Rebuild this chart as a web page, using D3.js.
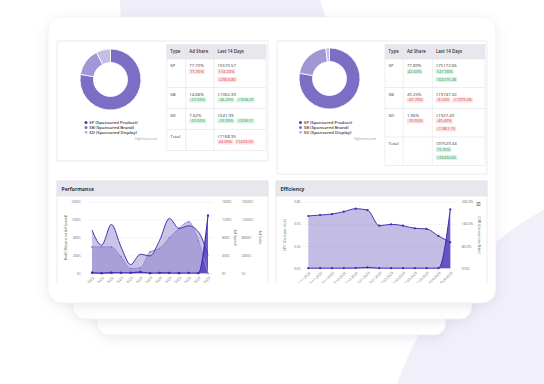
<!DOCTYPE html>
<html>
<head>
<meta charset="utf-8">
<script src="https://cdn.jsdelivr.net/npm/d3@7"></script>
<style>
  body { margin: 0; background: #fff; }
  svg { display: block; }
  text { font-family: "Open Sans", "DejaVu Sans", sans-serif; }
</style>
</head>
<body>
<div id="chart"></div>
<script>
// ---- data ----
var adTypes = ["SP (Sponsored Product)", "SB (Sponsored Brand)", "SD (Sponsored Display)"];
var leftShares = [77.70, 14.68, 7.62];
var rightShares = [77.80, 20.25, 1.96];

var tableHead = ["Type", "Ad Share", "Last 14 Days"];
var rowTypes = ["SP", "SB", "SD", "Total"];

var leftShare = ["77.70%", "14.68%", "7.62%", ""];
var leftShareChg = ["71.70%", "-57.00%", "-63.00%", ""];
var leftLast = ["€5570.57", "€1062.39", "€541.99", "€7168.95"];
var leftLastChg = [[["114.20%"], ["€2969.80"]], [["-46.20%", "-€908.29"]], [["-53.90%", "-€638.01"]], [["24.00%", "€1423.50"]]];
var leftTone = ["r", "g", "g", "r"];

var rightShare = ["77.80%", "20.25%", "1.96%", ""];
var rightShareChg = ["42.60%", "-47.70%", "-70.50%", ""];
var rightLast = ["€75172.66", "€19747.32", "€1927.40", "€97529.34"];
var rightLastChg = [[["547.90%"], ["€63275.48"]], [["-9.50%", "-€1975.68"]], [["-49.40%"], ["-€1861.15"]], [["73.90%"], ["€43434.66"]]];
var rightTone = ["g", "r", "r", "g"];

var perfDates = ["10.2022", "11.2022", "12.2022", "01.2023", "02.2023", "03.2023", "04.2023",
                 "05.2023", "06.2023", "07.2023", "08.2023", "09.2023", "10.2023"];
var perfSales = [9650, 6280, 10920, 5910, 1940, 4260, 3890, 7400, 12260, 10020, 10620, 9270, 4040];
var perfSpend = [590, 590, 590, 366, 105, 120, 478, 558, 793, 1002, 1151, 729, 0];
var perfRoas = [15, 3, 15, 12, 12, 30, 3, 10, 8, 5, 8, 5, 1290];
var perfTicks = [0, 400, 800, 1200, 1600];
var salesTicks = [0, 4000, 8000, 12000, 16000];

var effDates = ["01-11-2022", "15-11-2022", "29-11-2022", "13-12-2022", "27-12-2022", "10-01-2023", "24-01-2023",
                "07-02-2023", "21-02-2023", "07-03-2023", "21-03-2023", "04-04-2023", "18-04-2023"];
var effCpc = [0.589, 0.600, 0.611, 0.638, 0.671, 0.656, 0.480, 0.495, 0.480, 0.450, 0.443, 0.364, 0.293];
var effCvr = [0.5, 0.5, 0.5, 0.5, 1, 3, 0.5, 0.5, 0.5, 0.5, 0.5, 0.5, 212];
var cpcTicks = [0, 0.25, 0.5, 0.75];
var cvrTicks = [0, 80, 160, 240];

// ---- page ----
var W = 544, H = 384;
var border = "#e3e3ea";
var dark = "#4536b6";
var sliceColors = ["#7d6ec5", "#a396d5", "#c6bee5"];
var dotColors = ["#4e3fa9", "#8070c6", "#bdb3e0"];

var svg = d3.select("#chart").append("svg").attr("width", W).attr("height", H);
var defs = svg.append("defs");
var f = defs.append("filter").attr("id", "soft")
  .attr("x", "-20%").attr("y", "-20%").attr("width", "140%").attr("height", "150%");
f.append("feDropShadow").attr("dx", 0).attr("dy", 3).attr("stdDeviation", 6)
  .attr("flood-color", "#7f7a9e").attr("flood-opacity", 0.16);
defs.append("clipPath").attr("id", "inner").append("rect")
  .attr("x", 48).attr("y", 17).attr("width", 448).attr("height", 266);

// background shapes
svg.append("path").attr("d", "M120,0 L320,0 L330,30 L121,30 Z").attr("fill", "#efedf8");
svg.append("circle").attr("cx", 700).attr("cy", 490).attr("r", 321).attr("fill", "#f1eff9");

// device frame and the two cards behind it
svg.append("rect").attr("x", 97).attr("y", 280).attr("width", 349).attr("height", 55).attr("rx", 12)
  .attr("fill", "#fff").attr("stroke", "#ececf2").attr("stroke-width", 0.6).attr("filter", "url(#soft)");
svg.append("rect").attr("x", 73).attr("y", 280).attr("width", 399).attr("height", 39).attr("rx", 12)
  .attr("fill", "#fff").attr("stroke", "#ececf2").attr("stroke-width", 0.6).attr("filter", "url(#soft)");
svg.append("rect").attr("x", 48).attr("y", 17).attr("width", 448).attr("height", 286).attr("rx", 14)
  .attr("fill", "#fff").attr("stroke", "#ececf3").attr("stroke-width", 0.6).attr("filter", "url(#soft)");

var content = svg.append("g").attr("clip-path", "url(#inner)");

// ---- top panels: donut + table ----
function drawShare(x0, y0, w, h, shares, cx, cy, legX, credX, tbl) {
  var g = content.append("g");
  g.append("rect").attr("x", x0).attr("y", y0).attr("width", w).attr("height", h)
    .attr("fill", "#fff").attr("stroke", border).attr("stroke-width", 0.7);

  var pie = d3.pie().sort(null).value(function(d) { return d; });
  var arc = d3.arc().innerRadius(17).outerRadius(30.5);
  g.append("g").attr("transform", "translate(" + cx + "," + cy + ")")
    .selectAll("path").data(pie(shares)).enter().append("path")
    .attr("d", arc)
    .attr("fill", function(d, i) { return sliceColors[i]; })
    .attr("stroke", "#fff").attr("stroke-width", 0.8);

  var leg = g.selectAll(".leg").data(adTypes).enter().append("g")
    .attr("transform", function(d, i) { return "translate(" + legX + "," + (122.5 + i * 4.9) + ")"; });
  leg.append("circle").attr("r", 1.5).attr("fill", function(d, i) { return dotColors[i]; });
  leg.append("text").attr("x", 3.3).attr("dy", "0.35em").attr("font-size", 4.3).attr("fill", "#333")
    .attr("font-weight", 600).text(function(d) { return d; });
  g.append("text").attr("x", credX).attr("y", 139.5).attr("text-anchor", "end")
    .attr("font-size", 3).attr("fill", "#999").text("Highcharts.com");

  // table
  var cols = tbl.cols;
  var top = 44, headH = 15;
  g.append("rect").attr("x", cols[0]).attr("y", top).attr("width", cols[3] - cols[0]).attr("height", headH)
    .attr("fill", "#e8e7ee");
  tableHead.forEach(function(t, i) {
    g.append("text").attr("x", cols[i] + 3.6).attr("y", top + 9).attr("font-size", 4.4)
      .attr("font-weight", 600).attr("fill", "#333").text(t);
  });
  var y = top + headH;
  var rowTops = [];
  rowTypes.forEach(function(t, r) {
    var n = tbl.last[r].length;
    var rh = 13.5 + 7.5 * n;
    rowTops.push(y);
    var tone = tbl.tone[r];
    var bg = tone === "r" ? "#fde2e2" : "#dcf4e6";
    var fg = tone === "r" ? "#e0403a" : "#1f9a57";
    g.append("text").attr("x", cols[0] + 3.6).attr("y", y + 8).attr("font-size", 4.3).attr("fill", "#333").text(t);
    g.append("text").attr("x", cols[1] + 3.6).attr("y", y + 8).attr("font-size", 4.3).attr("fill", "#333").text(tbl.share[r]);
    g.append("text").attr("x", cols[2] + 3.6).attr("y", y + 8).attr("font-size", 4.3).attr("fill", "#333").text(tbl.lastVal[r]);
    function badge(bx, by, txt) {
      var bgr = g.append("rect").attr("y", by - 2.5).attr("height", 5).attr("fill", bg);
      var tx = g.append("text").attr("x", bx + 1.2).attr("y", by).attr("dy", "0.35em")
        .attr("font-size", 4).attr("fill", fg).text(txt);
      var tw = tx.node().getComputedTextLength();
      bgr.attr("x", bx).attr("width", tw + 2.4);
      return bx + tw + 2.4;
    }
    if (tbl.shareChg[r]) badge(cols[1] + 3.3, y + 12.5, tbl.shareChg[r]);
    tbl.last[r].forEach(function(line, li) {
      var bx = cols[2] + 3.3;
      line.forEach(function(txt) { bx = badge(bx, y + 12.5 + li * 8, txt) + 1.6; });
    });
    y += rh;
  });
  rowTops.push(y);
  rowTops.forEach(function(ry) {
    g.append("line").attr("x1", cols[0]).attr("x2", cols[3]).attr("y1", ry).attr("y2", ry)
      .attr("stroke", border).attr("stroke-width", 0.6);
  });
  cols.forEach(function(cx2) {
    g.append("line").attr("x1", cx2).attr("x2", cx2).attr("y1", top).attr("y2", y)
      .attr("stroke", border).attr("stroke-width", 0.6);
  });
}

drawShare(57, 41, 211, 120, leftShares, 110.5, 79.5, 86, 157, {
  cols: [166.7, 185.7, 214, 266], share: leftShare, shareChg: leftShareChg,
  lastVal: leftLast, last: leftLastChg, tone: leftTone
});
drawShare(277, 41, 210, 133, rightShares, 329.5, 78.5, 300.5, 376, {
  cols: [385, 403.3, 432.3, 485], share: rightShare, shareChg: rightShareChg,
  lastVal: rightLast, last: rightLastChg, tone: rightTone
});

// ---- bottom panels ----
function chartPanel(x0, w, title) {
  var g = content.append("g");
  g.append("rect").attr("x", x0).attr("y", 181).attr("width", w).attr("height", 130)
    .attr("fill", "#fff").attr("stroke", border).attr("stroke-width", 0.7);
  g.append("rect").attr("x", x0).attr("y", 181).attr("width", w).attr("height", 15)
    .attr("fill", "#e8e7ee").attr("stroke", border).attr("stroke-width", 0.7);
  g.append("text").attr("x", x0 + 4.5).attr("y", 190.5).attr("font-size", 5)
    .attr("font-weight", 700).attr("fill", "#333").text(title);
  return g;
}
function styleAxis(sel) {
  sel.select(".domain").remove();
  sel.selectAll("text").attr("font-size", 3.4).attr("fill", "#666")
    .style("font-family", "\"Open Sans\", sans-serif");
}
function axisTitle(g, x, y, rot, txt) {
  g.append("text").attr("transform", "translate(" + x + "," + y + ") rotate(" + rot + ")")
    .attr("text-anchor", "middle").attr("dy", "0.35em").attr("font-size", 3.6).attr("fill", "#666").text(txt);
}
function xLabels(g, scale, y0) {
  g.append("g").attr("transform", "translate(0," + y0 + ")")
    .call(d3.axisBottom(scale).tickSize(0))
    .call(styleAxis)
    .selectAll("text").attr("x", 0).attr("y", 0).attr("dy", "0.35em")
    .attr("text-anchor", "end").attr("transform", "translate(1,4) rotate(-45)");
}

// Performance
var perf = chartPanel(57, 211, "Performance");
var pX = d3.scalePoint().domain(perfDates).range([92, 208]);
var pY = d3.scaleLinear().domain([0, 1600]).range([273.3, 201.7]);
var pSalesY = d3.scaleLinear().domain([0, 16000]).range([273.3, 201.7]);

perf.append("g").attr("transform", "translate(88,0)")
  .call(d3.axisLeft(pY).tickValues(perfTicks).tickSize(-125).tickFormat(""))
  .call(styleAxis).selectAll("line").attr("stroke", "#ececf1").attr("stroke-width", 0.6);
perf.append("g").attr("transform", "translate(88,0)")
  .call(d3.axisLeft(pY).tickValues(perfTicks).tickSize(0).tickPadding(7).tickFormat(function(d) { return d + "€"; }))
  .call(styleAxis);
perf.append("g").attr("transform", "translate(213,0)")
  .call(d3.axisRight(pY).tickValues(perfTicks).tickSize(0).tickPadding(9).tickFormat(function(d) { return d + "€"; }))
  .call(styleAxis);
perf.append("g").attr("transform", "translate(213,0)")
  .call(d3.axisRight(pSalesY).tickValues(salesTicks).tickSize(0).tickPadding(28.7).tickFormat(function(d) { return d + "€"; }))
  .call(styleAxis);
axisTitle(perf, 66, 237.5, -90, "RoAS (Return on Ad Spend)");
axisTitle(perf, 235, 237.5, 90, "Ad Spend");
axisTitle(perf, 260, 237.5, 90, "Ad Sales");

function px(d, i) { return pX(perfDates[i]); }
perf.append("path").datum(perfSales)
  .attr("d", d3.area().x(px).y0(pY(0)).y1(function(d) { return pSalesY(d); }).curve(d3.curveMonotoneX))
  .attr("fill", "#7a6bc3").attr("fill-opacity", 0.4);
perf.append("path").datum(perfSpend)
  .attr("d", d3.area().x(px).y0(pY(0)).y1(function(d) { return pY(d); }).curve(d3.curveMonotoneX))
  .attr("fill", "#7a6bc3").attr("fill-opacity", 0.4);
perf.append("path").datum(perfRoas)
  .attr("d", d3.area().x(px).y0(pY(0)).y1(function(d) { return pY(d); }).curve(d3.curveMonotoneX))
  .attr("fill", "#4a3bb8").attr("fill-opacity", 0.8);
perf.append("path").datum(perfSpend)
  .attr("d", d3.line().x(px).y(function(d) { return pY(d); }).curve(d3.curveMonotoneX))
  .attr("fill", "none").attr("stroke", "#9287d4").attr("stroke-width", 0.9);
perf.selectAll(".sm").data(perfSpend).enter().append("circle")
  .attr("cx", px).attr("cy", function(d) { return pY(d); }).attr("r", 0.9).attr("fill", "#8a7ed0");
perf.append("path").datum(perfSales)
  .attr("d", d3.line().x(px).y(function(d) { return pSalesY(d); }).curve(d3.curveMonotoneX))
  .attr("fill", "none").attr("stroke", dark).attr("stroke-width", 1);
perf.append("path").datum(perfRoas)
  .attr("d", d3.line().x(px).y(function(d) { return pY(d); }).curve(d3.curveMonotoneX))
  .attr("fill", "none").attr("stroke", "#3b2cb2").attr("stroke-width", 1.1);
perf.selectAll(".rm").data(perfRoas).enter().append("rect")
  .attr("x", function(d, i) { return px(d, i) - 1.1; }).attr("y", function(d) { return pY(d) - 1.1; })
  .attr("width", 2.2).attr("height", 2.2).attr("fill", "#3b2cb2");
xLabels(perf, pX, 273.3);

// Efficiency
var eff = chartPanel(276, 211, "Efficiency");
var eX = d3.scalePoint().domain(effDates).range([308.3, 450.3]);
var eY = d3.scaleLinear().domain([0, 0.75]).range([268.3, 201.7]);
var eCvrY = d3.scaleLinear().domain([0, 240]).range([268.3, 201.7]);

eff.append("g").attr("transform", "translate(303,0)")
  .call(d3.axisLeft(eY).tickValues(cpcTicks).tickSize(-152).tickFormat(""))
  .call(styleAxis).selectAll("line").attr("stroke", "#ececf1").attr("stroke-width", 0.6);
eff.append("g").attr("transform", "translate(303,0)")
  .call(d3.axisLeft(eY).tickValues(cpcTicks).tickSize(0).tickPadding(2).tickFormat(function(d) { return d.toFixed(1) + "€"; }))
  .call(styleAxis);
eff.append("g").attr("transform", "translate(455,0)")
  .call(d3.axisRight(eCvrY).tickValues(cvrTicks).tickSize(0).tickPadding(6.7).tickFormat(function(d) { return d.toFixed(1) + "%"; }))
  .call(styleAxis);
axisTitle(eff, 285, 235, -90, "CPC (Cost per click)");
axisTitle(eff, 479, 235, 90, "CVR (Conversion Rate)");
[202.5, 204, 205.5].forEach(function(yy) {
  eff.append("line").attr("x1", 476.5).attr("x2", 480.5).attr("y1", yy).attr("y2", yy)
    .attr("stroke", "#666").attr("stroke-width", 0.7);
});

function ex(d, i) { return eX(effDates[i]); }
eff.append("path").datum(effCpc)
  .attr("d", d3.area().x(ex).y0(eY(0)).y1(function(d) { return eY(d); }).curve(d3.curveMonotoneX))
  .attr("fill", "#7a6bc3").attr("fill-opacity", 0.45);
eff.append("path").datum(effCvr)
  .attr("d", d3.area().x(ex).y0(eY(0)).y1(function(d) { return eCvrY(d); }).curve(d3.curveMonotoneX))
  .attr("fill", "#4a3bb8").attr("fill-opacity", 0.8);
eff.append("path").datum(effCpc)
  .attr("d", d3.line().x(ex).y(function(d) { return eY(d); }).curve(d3.curveMonotoneX))
  .attr("fill", "none").attr("stroke", dark).attr("stroke-width", 1);
eff.selectAll(".cm").data(effCpc).enter().append("circle")
  .attr("cx", ex).attr("cy", function(d) { return eY(d); }).attr("r", 1.1).attr("fill", "#3b2cb2");
eff.append("path").datum(effCvr)
  .attr("d", d3.line().x(ex).y(function(d) { return eCvrY(d); }).curve(d3.curveMonotoneX))
  .attr("fill", "none").attr("stroke", "#3b2cb2").attr("stroke-width", 1);
eff.selectAll(".vm").data(effCvr).enter().append("circle")
  .attr("cx", ex).attr("cy", function(d) { return eCvrY(d); }).attr("r", 1.1).attr("fill", "#3b2cb2");
xLabels(eff, eX, 268.3);
</script>
</body>
</html>
